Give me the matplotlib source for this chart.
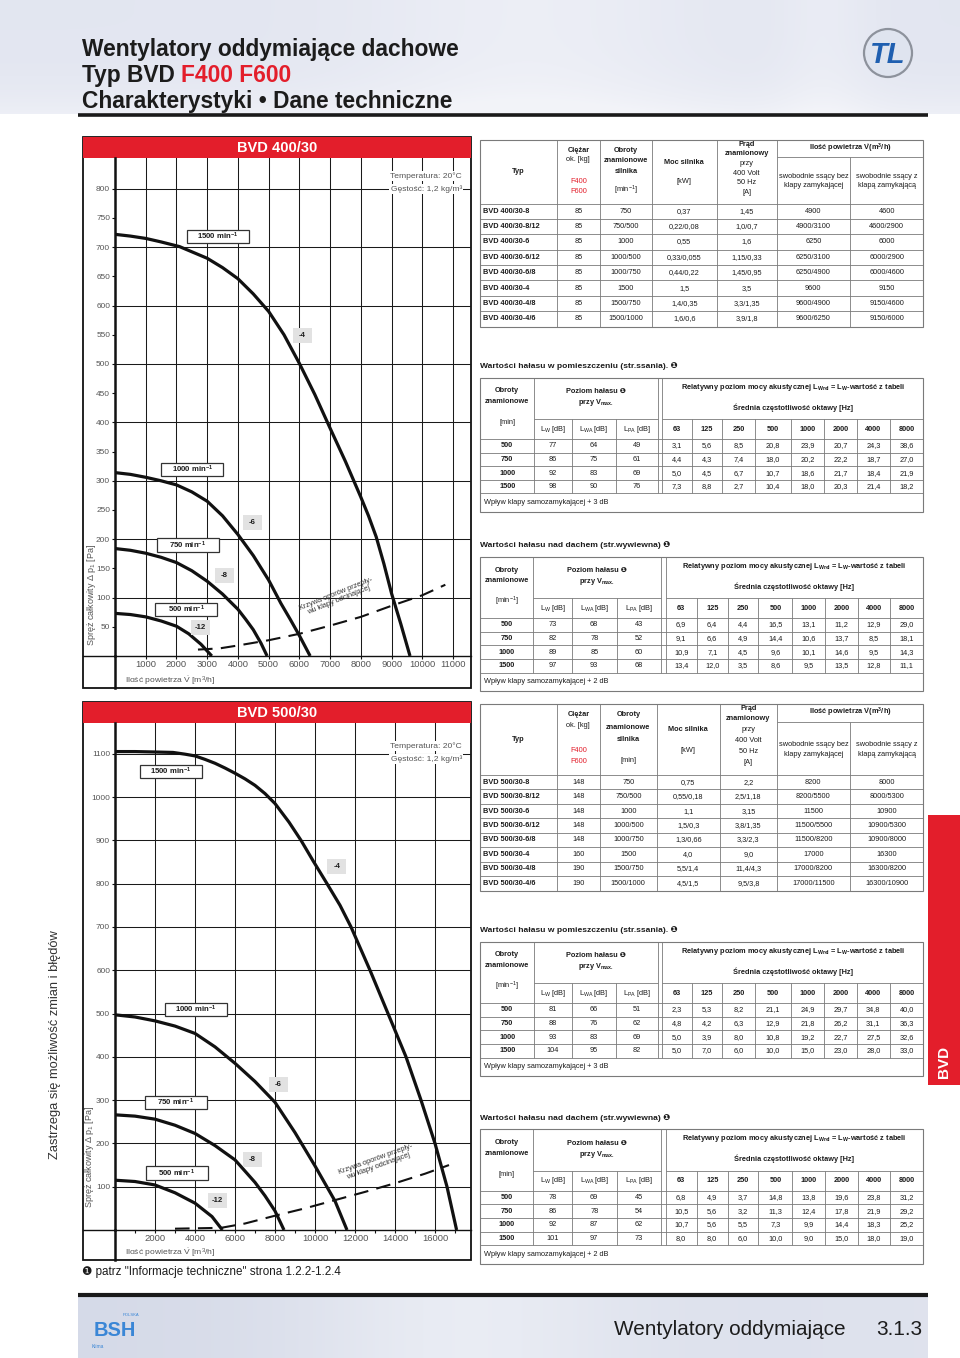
import matplotlib
matplotlib.use('Agg')
import matplotlib.pyplot as plt
import numpy as np
from matplotlib import font_manager
from matplotlib.patches import Rectangle, Circle

# ---------------- data ----------------
# BVD 400/30 fan curves: air volume [m3/h] / total pressure [Pa]
v400_1500 = [0, 500, 1000, 1500, 2100, 3000, 3500, 4000, 4500, 5000, 5500, 6000, 6500, 7000,
             7500, 8000, 8250, 8500, 8750, 9000, 9300, 9600]
p400_1500 = [722, 719, 715, 709, 701, 681, 665, 646, 620, 590, 550, 501, 448, 390,
             333, 272, 240, 204, 158, 107, 55, 0]
v400_1000 = [0, 500, 1000, 1500, 2000, 2500, 3000, 3500, 4000, 4500, 5000, 5400, 5700, 6000, 6350]
p400_1000 = [314, 311, 306, 300, 293, 281, 265, 240, 208, 172, 130, 90, 63, 35, 0]
v400_750 = [0, 500, 1000, 1500, 2000, 2500, 3000, 3500, 4000, 4250, 4500, 4750, 4950]
p400_750 = [184, 181, 176, 169, 160, 146, 128, 106, 80, 63, 45, 22, 0]
v400_500 = [0, 500, 1000, 1500, 2000, 2400, 2800, 3150]
p400_500 = [73, 71, 67, 60, 51, 38, 20, 0]
v400_flap = [2700, 3400, 4000, 5000, 6000, 7000, 8000, 9000, 10000, 10750]
p400_flap = [11, 13, 18, 27, 38, 52, 67, 86, 104, 122]

# BVD 500/30 fan curves
v500_1500 = [0, 1000, 2000, 2900, 3500, 4000, 4500, 5000, 5500, 6000, 6500, 7000, 7500, 8000,
             8700, 9300, 9900, 10600, 11250, 11800, 12750, 13650, 14550, 15300, 16000, 16600, 17080]
p500_1500 = [1105, 1105, 1104, 1103, 1099, 1095, 1087, 1078, 1067, 1055, 1042, 1027, 1008, 985,
             942, 900, 853, 800, 750, 700, 600, 500, 400, 300, 200, 100, 0]
v500_1000 = [0, 1000, 2000, 3000, 4000, 5000, 6000, 7000, 8000, 9000, 10000, 11000, 11600]
p500_1000 = [497, 492, 483, 471, 454, 423, 385, 343, 295, 225, 148, 67, 0]
v500_750 = [0, 1000, 2000, 3000, 4000, 5000, 6000, 7000, 7500, 8000, 8450]
p500_750 = [266, 263, 256, 242, 223, 195, 162, 110, 79, 44, 0]
v500_500 = [0, 1000, 2000, 3000, 4000, 4850, 5370]
p500_500 = [115, 112, 104, 86, 62, 31, 0]
v500_flap = [3000, 5300, 6500, 8000, 9500, 11000, 12500, 14000, 15500, 16700]
p500_flap = [3, 5, 15, 33, 50, 69, 88, 108, 130, 150]

# axis ticks
x400_ticks = [1000, 2000, 3000, 4000, 5000, 6000, 7000, 8000, 9000, 10000, 11000]
y400_ticks = [50, 100, 150, 200, 250, 300, 350, 400, 450, 500, 550, 600, 650, 700, 750, 800]
y400_grid = [100, 200, 300, 400, 500, 600, 700, 800]
x500_ticks = [2000, 4000, 6000, 8000, 10000, 12000, 14000, 16000]
x500_minor = [1000, 3000, 5000, 7000, 9000, 11000, 13000, 15000, 17000]
y500_ticks = [100, 200, 300, 400, 500, 600, 700, 800, 900, 1000, 1100]

# technical data tables
types400 = ['BVD 400/30-8', 'BVD 400/30-8/12', 'BVD 400/30-6', 'BVD 400/30-6/12',
            'BVD 400/30-6/8', 'BVD 400/30-4', 'BVD 400/30-4/8', 'BVD 400/30-4/6']
weight400 = ['85', '85', '85', '85', '85', '85', '85', '85']
speed400 = ['750', '750/500', '1000', '1000/500', '1000/750', '1500', '1500/750', '1500/1000']
power400 = ['0,37', '0,22/0,08', '0,55', '0,33/0,055', '0,44/0,22', '1,5', '1,4/0,35', '1,6/0,6']
current400 = ['1,45', '1,0/0,7', '1,6', '1,15/0,33', '1,45/0,95', '3,5', '3,3/1,35', '3,9/1,8']
airfree400 = ['4900', '4900/3100', '6250', '6250/3100', '6250/4900', '9600', '9600/4900', '9600/6250']
airflap400 = ['4600', '4600/2900', '6000', '6000/2900', '6000/4600', '9150', '9150/4600', '9150/6000']

types500 = ['BVD 500/30-8', 'BVD 500/30-8/12', 'BVD 500/30-6', 'BVD 500/30-6/12',
            'BVD 500/30-6/8', 'BVD 500/30-4', 'BVD 500/30-4/8', 'BVD 500/30-4/6']
weight500 = ['148', '148', '148', '148', '148', '160', '190', '190']
speed500 = ['750', '750/500', '1000', '1000/500', '1000/750', '1500', '1500/750', '1500/1000']
power500 = ['0,75', '0,55/0,18', '1,1', '1,5/0,3', '1,3/0,66', '4,0', '5,5/1,4', '4,5/1,5']
current500 = ['2,2', '2,5/1,18', '3,15', '3,8/1,35', '3,3/2,3', '9,0', '11,4/4,3', '9,5/3,8']
airfree500 = ['8200', '8200/5500', '11500', '11500/5500', '11500/8200', '17000', '17000/8200', '17000/11500']
airflap500 = ['8000', '8000/5300', '10900', '10900/5300', '10900/8000', '16300', '16300/8200', '16300/10900']

# noise tables
rpm = ['500', '750', '1000', '1500']
octaves = ['63', '125', '250', '500', '1000', '2000', '4000', '8000']

lw400_in = [['77', '64', '49'], ['86', '75', '61'], ['92', '83', '69'], ['98', '90', '76']]
oct400_in = [['3,1', '5,6', '8,5', '20,8', '23,9', '20,7', '24,3', '38,6'],
             ['4,4', '4,3', '7,4', '18,0', '20,2', '22,2', '18,7', '27,0'],
             ['5,0', '4,5', '6,7', '10,7', '18,6', '21,7', '18,4', '21,9'],
             ['7,3', '8,8', '2,7', '10,4', '18,0', '20,3', '21,4', '18,2']]
lw400_out = [['73', '68', '43'], ['82', '78', '52'], ['89', '85', '60'], ['97', '93', '68']]
oct400_out = [['6,9', '6,4', '4,4', '16,5', '13,1', '11,2', '12,9', '29,0'],
              ['9,1', '6,6', '4,9', '14,4', '10,6', '13,7', '8,5', '18,1'],
              ['10,9', '7,1', '4,5', '9,6', '10,1', '14,6', '9,5', '14,3'],
              ['13,4', '12,0', '3,5', '8,6', '9,5', '13,5', '12,8', '11,1']]
lw500_in = [['81', '66', '51'], ['88', '76', '62'], ['93', '83', '69'], ['104', '95', '82']]
oct500_in = [['2,3', '5,3', '8,2', '21,1', '24,9', '29,7', '34,8', '40,0'],
             ['4,8', '4,2', '6,3', '12,9', '21,8', '26,2', '31,1', '36,3'],
             ['5,0', '3,9', '8,0', '10,8', '19,2', '22,7', '27,5', '32,6'],
             ['5,0', '7,0', '6,0', '10,0', '15,0', '23,0', '28,0', '33,0']]
lw500_out = [['78', '69', '45'], ['86', '78', '54'], ['92', '87', '62'], ['101', '97', '73']]
oct500_out = [['6,8', '4,9', '3,7', '14,8', '13,8', '19,6', '23,8', '31,2'],
              ['10,5', '5,6', '3,2', '11,3', '12,4', '17,8', '21,9', '29,2'],
              ['10,7', '5,6', '5,5', '7,3', '9,9', '14,4', '18,3', '25,2'],
              ['8,0', '8,0', '6,0', '10,0', '9,0', '15,0', '18,0', '19,0']]

# ---------------- fonts ----------------
names = {f.name for f in font_manager.fontManager.ttflist}
NARROW = 'Liberation Sans Narrow' if 'Liberation Sans Narrow' in names else 'Liberation Sans'
SC = 1.0 if NARROW == 'Liberation Sans Narrow' else 0.85
FAM = [NARROW, 'DejaVu Sans']
plt.rcParams['font.family'] = FAM
plt.rcParams['mathtext.fontset'] = 'custom'
plt.rcParams['mathtext.rm'] = NARROW
plt.rcParams['mathtext.bf'] = NARROW + ':bold'
plt.rcParams['mathtext.it'] = NARROW + ':italic'

RED = '#e31e2b'
INK = '#1c1c1c'
LINE = '#7a7a7a'
W, H = 960, 1358

fig = plt.figure(figsize=(W / 100, H / 100), dpi=100)
page = fig.add_axes([0, 0, 1, 1])
page.set_xlim(0, W)
page.set_ylim(H, 0)
page.axis('off')
R = fig.canvas.get_renderer()


def T(x, y, s, size=6.3, bold=False, ha='center', color=INK, **kw):
    return page.text(x, y, s, fontsize=size * SC, fontweight='bold' if bold else 'normal',
                     ha=ha, va='center', color=color, **kw)


def fit(x, y, s, width, **kw):
    t = page.text(x, y, s, fontsize=10, **kw)
    bb = t.get_window_extent(renderer=R)
    t.set_fontsize(10 * width / max(bb.width, bb.height))
    return t


def hl(x0, x1, y, lw=0.6):
    page.plot([x0, x1], [y, y], color=LINE, lw=lw, solid_capstyle='butt')


def vl(x, y0, y1, lw=0.6):
    page.plot([x, x], [y0, y1], color=LINE, lw=lw, solid_capstyle='butt')


# ---------------- header / footer ----------------
xs = np.linspace(0, 1, 300)
ys = np.linspace(0, 1, 60)[:, None]
base = np.array([0.87, 0.885, 0.935])
light = np.array([0.95, 0.955, 0.975])
wgt = 0.25 + 0.45 * np.exp(-((xs - 0.55) / 0.18) ** 2) + 0.3 * np.exp(-((xs - 0.86) / 0.05) ** 2)
wgt = np.clip(wgt[None, :] + 0.5 * ys ** 4, 0, 1)
img = base + (light - base) * wgt[..., None]
page.imshow(img, extent=[0, W, 114, 0], aspect='auto', zorder=0)
page.plot([78, 928], [115, 115], color='#1a1a1a', lw=2.6, solid_capstyle='butt')

hfam = [NARROW, 'DejaVu Sans']
t1 = fit(82, 56, 'Wentylatory oddymiające dachowe', 377, family=hfam, fontweight='bold',
         color=INK, va='baseline')
fsz = t1.get_fontsize()
full = page.text(82, 82, 'Typ BVD F400 F600', fontsize=fsz, family=hfam, fontweight='bold',
                 color=INK, va='baseline')
red_part = page.text(0, 0, 'F400 F600', fontsize=fsz, family=hfam, fontweight='bold')
wf = full.get_window_extent(renderer=R).width
wr = red_part.get_window_extent(renderer=R).width
red_part.remove()
full.set_text('Typ BVD')
page.text(82 + wf - wr, 82, 'F400 F600', fontsize=fsz, family=hfam, fontweight='bold',
          color=RED, va='baseline')
page.text(82, 108, 'Charakterystyki • Dane techniczne', fontsize=fsz, family=hfam,
          fontweight='bold', color=INK, va='baseline')

# TL logo
page.add_patch(Circle((888, 53), 24, fc='#dfe4ef', ec='#8d929c', lw=1.6, zorder=2))
page.text(888, 55, 'TL', fontsize=21, fontweight='bold', fontstyle='italic', color='#1f5fb0',
          family=['Liberation Sans', 'DejaVu Sans'], ha='center', va='center', zorder=3)

# footer
fx = np.linspace(0, 1, 300)
fw = 0.15 + 0.55 * np.exp(-((fx - 0.45) / 0.2) ** 2) + 0.35 * fx
fimg = np.array([0.82, 0.84, 0.9]) + (np.array([0.93, 0.94, 0.965]) - np.array([0.82, 0.84, 0.9])) * np.clip(fw, 0, 1)[None, :, None]
page.imshow(np.repeat(fimg, 10, axis=0), extent=[78, 928, 1358, 1297], aspect='auto', zorder=0)
page.plot([78, 928], [1295, 1295], color='#1a1a1a', lw=3, solid_capstyle='butt')
f1 = fit(845, 1335, 'Wentylatory oddymiające', 233, family=hfam, color=INK, ha='right',
         va='baseline')
page.text(922, 1335, '3.1.3', fontsize=f1.get_fontsize(), family=hfam, color=INK, ha='right',
          va='baseline')
page.text(115, 1331, 'BSH', fontsize=17 * SC, fontweight='bold', color='#3a86d6', ha='center',
          va='center', family=hfam)
page.text(131, 1315, 'POLSKA', fontsize=3, color='#3a86d6', ha='center', va='center')
page.text(92, 1346, 'Klima', fontsize=3.5, color='#3a86d6', ha='left', va='center')

# left note and red tab
fit(55, 1045, 'Zastrzega się możliwość zmian i błędów', 230, rotation=90, ha='center',
    va='center', color='#333333', family=['Liberation Sans', 'DejaVu Sans'])
page.add_patch(Rectangle((928, 815), 32, 270, fc=RED, ec='none'))
page.text(944, 1062, 'BVD', rotation=90, color='white', fontsize=11, fontweight='bold',
          family=['Liberation Sans', 'DejaVu Sans'], ha='center', va='center')
page.text(82, 1272, '❶ patrz "Informacje techniczne" strona 1.2.2-1.2.4', fontsize=8.4,
          family=['Liberation Sans', 'DejaVu Sans'], color=INK, ha='left', va='center')


# ---------------- charts ----------------
def chart(fr, axb, xmax, ymax, title, xgrid, ygrid, xt, xm, yt, curves, flap,
          rpm_boxes, code_boxes, krz, temp_y, ylab, xlab):
    x0, y0, x1, y1 = fr
    page.add_patch(Rectangle((x0, y0), x1 - x0, y1 - y0, fc='white', ec='#111111', lw=1.3, zorder=1))
    page.add_patch(Rectangle((x0, y0), x1 - x0, 21, fc=RED, ec='none', zorder=2))
    page.text((x0 + x1) / 2, y0 + 11, title, color='white', fontsize=10.5, fontweight='bold',
              family=['Liberation Sans', 'DejaVu Sans'], ha='center', va='center', zorder=3)
    a0, b0, a1, b1 = axb
    page.plot([a0, a0], [b1, y1], color='#111111', lw=1.8, zorder=3)
    page.plot([x0, a0], [b1, b1], color='#111111', lw=1.0, zorder=3)

    ax = fig.add_axes([a0 / W, 1 - b1 / H, (a1 - a0) / W, (b1 - b0) / H])
    ax.set_xlim(0, xmax)
    ax.set_ylim(0, ymax)
    ax.patch.set_visible(False)
    for s in ('top', 'right'):
        ax.spines[s].set_visible(False)
    ax.spines['left'].set_linewidth(1.8)
    ax.spines['bottom'].set_linewidth(1.0)
    ax.spines['left'].set_color('#111111')
    ax.spines['bottom'].set_color('#111111')
    for g in xgrid:
        ax.axvline(g, color='#1a1a1a', lw=0.75, zorder=1)
    for g in ygrid:
        ax.axhline(g, color='#1a1a1a', lw=0.75, zorder=1)
    ax.set_xticks(xt)
    ax.set_xticklabels([str(v) for v in xt])
    ax.set_xticks(xm, minor=True)
    ax.set_yticks(yt)
    ax.set_yticklabels([str(v) for v in yt])
    ax.tick_params(axis='x', which='both', direction='out', length=2.5, width=0.8, color='#111111',
                   labelcolor='#555555', labelsize=8.0 * SC, pad=0.5)
    ax.tick_params(axis='y', direction='out', length=2.5, width=0.8, color='#111111',
                   labelcolor='#555555', labelsize=7 * SC, pad=1)

    for v, p in curves:
        ax.plot(v, p, color='#111111', lw=2.3, solid_joinstyle='round', solid_capstyle='butt',
                zorder=3)
    ax.plot(flap[0], flap[1], color='#111111', lw=1.5, dashes=(7, 4), zorder=3)

    tr = page.transData
    for cx, cy, s in rpm_boxes:
        ax.add_patch(Rectangle((cx - 31, cy - 6.7), 62, 13.4, transform=tr, fc='white',
                               ec='#333333', lw=0.9, zorder=5, clip_on=False))
        ax.text(cx, cy, s + r' min$^{\mathbf{-1}}$', transform=tr, fontsize=6.6 * SC,
                fontweight='bold', ha='center', va='center', color=INK, zorder=6)
    for cx, cy, s in code_boxes:
        ax.add_patch(Rectangle((cx - 9.5, cy - 7.5), 19, 15, transform=tr, fc='#e2e2e2',
                               ec='none', zorder=5, clip_on=False))
        ax.text(cx, cy, s, transform=tr, fontsize=6.6 * SC, fontweight='bold', ha='center',
                va='center', color=INK, zorder=6)
    ax.text(krz[0], krz[1], 'Krzywa oporów przepły-\nwu klapy odcinającej', transform=tr,
            fontsize=6.2 * SC, rotation=krz[2], rotation_mode='anchor', ha='center',
            va='center', color='#333333', linespacing=1.0, zorder=6)
    for k, s in enumerate(['Temperatura: 20°C', 'Gęstość: 1,2 kg/m³']):
        ax.text(462, temp_y + 13 * k, s, transform=tr, fontsize=7.2 * SC, ha='right',
                va='center', color='#555555', zorder=6,
                bbox=dict(boxstyle='square,pad=0.15', fc='white', ec='none'))
    page.text(ylab[0], ylab[1], 'Spręż całkowity Δ p$_1$ [Pa]', rotation=90, fontsize=7.6 * SC,
              ha='center', va='center', color='#555555', zorder=3)
    page.text(xlab[0], xlab[1], r'Ilość powietrza $\dot{\mathrm{V}}$ [m$^3$/h]', fontsize=7.2 * SC,
              ha='left', va='center', color='#555555', zorder=3)
    return ax


chart((83, 137, 471, 688), (115, 158, 471, 656), 11585, 852.7, 'BVD 400/30',
      x400_ticks, y400_grid, x400_ticks, [], y400_ticks,
      [(v400_1500, p400_1500), (v400_1000, p400_1000), (v400_750, p400_750), (v400_500, p400_500)],
      (v400_flap, p400_flap),
      [(217.5, 236.7, '1500'), (192.2, 469.7, '1000'), (188, 545, '750'), (186.2, 609.3, '500')],
      [(302.5, 335.5, '-4'), (252.5, 522.5, '-6'), (224.5, 575.5, '-8'), (200, 627.5, '-12')],
      (337, 597, 22), 176, (91, 595), (125, 681))

chart((83, 702, 471, 1260), (115, 723, 471, 1230), 17800, 1171, 'BVD 500/30',
      x500_ticks, y500_ticks, x500_ticks, x500_minor, y500_ticks,
      [(v500_1500, p500_1500), (v500_1000, p500_1000), (v500_750, p500_750), (v500_500, p500_500)],
      (v500_flap, p500_flap),
      [(170.8, 771.7, '1500'), (195.8, 1009.2, '1000'), (175.8, 1102.5, '750'), (176.7, 1173, '500')],
      [(336.7, 866.7, '-4'), (278.3, 1084.2, '-6'), (252.3, 1159.2, '-8'), (217.2, 1200.5, '-12')],
      (376.7, 1163, 20), 746, (90, 1157), (125, 1252.5))


# ---------------- tables ----------------
def tech_table(top, hb, bot, cols, unit, columns):
    x0, x1 = cols[0], cols[-1]
    h = hb - top
    page.add_patch(Rectangle((x0, top), x1 - x0, bot - top, fill=False, ec=LINE, lw=0.8))
    for c in cols[1:6]:
        vl(c, top, bot)
    vl(cols[6], top + 0.26 * h, bot)
    hl(cols[5], x1, top + 0.26 * h)
    n = len(columns[0])
    rh = (bot - hb) / n
    for i in range(n):
        hl(x0, x1, hb + i * rh)
    mid = [(cols[i] + cols[i + 1]) / 2 for i in range(7)]
    T(mid[0], top + 0.5 * h, 'Typ', bold=True)
    T(mid[1], top + 0.16 * h, 'Ciężar', bold=True)
    T(mid[1], top + 0.31 * h, 'ok. [kg]')
    T(mid[1], top + 0.66 * h, 'F400', color=RED)
    T(mid[1], top + 0.81 * h, 'F600', color=RED)
    T(mid[2], top + 0.16 * h, 'Obroty', bold=True)
    T(mid[2], top + 0.33 * h, 'znamionowe', bold=True)
    T(mid[2], top + 0.5 * h, 'silnika', bold=True)
    T(mid[2], top + 0.8 * h, unit)
    T(mid[3], top + 0.36 * h, 'Moc silnika', bold=True)
    T(mid[3], top + 0.66 * h, '[kW]')
    for f, s, b in zip([0.07, 0.21, 0.37, 0.52, 0.67, 0.82],
                       ['Prąd', 'znamionowy', 'przy', '400 Volt', '50 Hz', '[A]'],
                       [True, True, False, False, False, False]):
        T(mid[4], top + f * h, s, bold=b)
    T((cols[5] + x1) / 2, top + 0.13 * h, r'Ilość powietrza $\dot{\mathbf{V}}$(m$^{\mathbf{3}}$/h)', bold=True)
    T(mid[5], top + 0.57 * h, 'swobodnie ssący bez')
    T(mid[5], top + 0.72 * h, 'klapy zamykającej')
    T(mid[6], top + 0.57 * h, 'swobodnie ssący z')
    T(mid[6], top + 0.72 * h, 'klapą zamykającą')
    for i in range(n):
        y = hb + (i + 0.5) * rh
        T(x0 + 3, y, columns[0][i], bold=True, ha='left')
        for j in range(1, 7):
            T(mid[j], y, columns[j][i])


cols_tech400 = [480, 556.7, 600, 651.7, 716.7, 776.7, 850, 923.3]
cols_tech500 = [480, 556.7, 600, 656.7, 720, 776.7, 850, 923.3]
tech_table(140, 203.5, 326.5, cols_tech400, r'[min$^{-1}$]',
           [types400, weight400, speed400, power400, current400, airfree400, airflap400])
tech_table(703.5, 775, 890.5, cols_tech500, '[min]',
           [types500, weight500, speed500, power500, current500, airfree500, airflap500])

cols_in = [480, 534.3, 571.7, 615.7, 657.7, 662.3, 691.7, 721.7, 755, 791, 824.3, 856.7, 890, 923.3]
cols_out = [480, 533.3, 571.7, 616.7, 661, 665.7, 696.7, 727.7, 758.3, 792.3, 825, 857.7, 890, 923.3]
TITLE_IN = 'Wartości hałasu w pomieszczeniu (str.ssania). ❶'
TITLE_OUT = 'Wartości hałasu nad dachem (str.wywiewna) ❶'


def noise_table(top, title, unit, cols, lw_rows, oct_rows, note):
    x0, c1, c2, c3, d1, d2 = cols[:6]
    x1 = cols[-1]
    sub, hb, rh = top + 41.4, top + 61.4, 13.6
    dend = hb + 4 * rh
    bot = dend + 18.4
    T(x0, top - 11.5, title, size=7.2, bold=True, ha='left')
    page.add_patch(Rectangle((x0, top), x1 - x0, bot - top, fill=False, ec=LINE, lw=0.8))
    for c in (c1, d1, d2):
        vl(c, top, dend)
    for c in [c2, c3] + cols[6:13]:
        vl(c, sub, dend)
    hl(c1, d1, sub)
    hl(d2, x1, sub)
    for i in range(5):
        hl(x0, x1, hb + i * rh)
    m0 = (x0 + c1) / 2
    T(m0, top + 13.3, 'Obroty', bold=True)
    T(m0, top + 24, 'znamionowe', bold=True)
    T(m0, top + 45, unit)
    T((c1 + d1) / 2, top + 14, 'Poziom hałasu ❶', bold=True)
    T((c1 + d1) / 2, top + 25, r'przy V$_{\mathbf{max.}}$', bold=True)
    lc = [(c1 + c2) / 2, (c2 + c3) / 2, (c3 + d1) / 2]
    for x, s in zip(lc, [r'L$_{\mathrm{W}}$ [dB]', r'L$_{\mathrm{WA}}$ [dB]', r'L$_{\mathrm{PA}}$ [dB]']):
        T(x, (sub + hb) / 2, s)
    T((d2 + x1) / 2, top + 9.5,
      r'Relatywny poziom mocy akustycznej L$_{\mathbf{Wrel}}$ = L$_{\mathbf{W}}$-wartość z tabeli',
      bold=True)
    T((d2 + x1) / 2, top + 29.7, 'Średnia częstotliwość oktawy [Hz]', bold=True)
    oc = [(cols[5 + k] + cols[6 + k]) / 2 for k in range(8)]
    for x, s in zip(oc, octaves):
        T(x, (sub + hb) / 2, s, bold=True)
    for i in range(4):
        y = hb + (i + 0.5) * rh
        T(m0, y, rpm[i], bold=True)
        for x, s in zip(lc, lw_rows[i]):
            T(x, y, s)
        for x, s in zip(oc, oct_rows[i]):
            T(x, y, s)
    T(x0 + 4, dend + 9.2, note, ha='left')


noise_table(377.7, TITLE_IN, '[min]', cols_in, lw400_in, oct400_in,
            'Wpływ klapy samozamykającej + 3 dB')
noise_table(556.7, TITLE_OUT, r'[min$^{-1}$]', cols_out, lw400_out, oct400_out,
            'Wpływ klapy samozamykającej + 2 dB')
noise_table(941.7, TITLE_IN, r'[min$^{-1}$]', cols_in, lw500_in, oct500_in,
            'Wpływ klapy samozamykającej + 3 dB')
noise_table(1129.3, TITLE_OUT, '[min]', cols_out, lw500_out, oct500_out,
            'Wpływ klapy samozamykającej + 2 dB')

fig.savefig('out.png', dpi=100)
